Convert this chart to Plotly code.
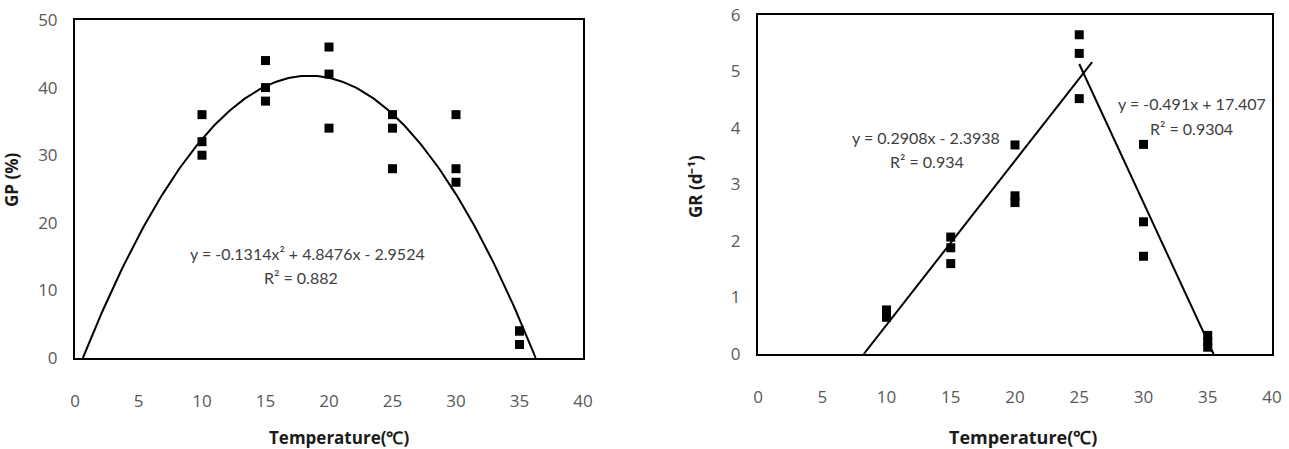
import numpy as np
import plotly.graph_objects as go

# ---------------- data ----------------
temp_gp = [10, 10, 10, 15, 15, 15, 20, 20, 20, 25, 25, 25, 30, 30, 30, 35, 35, 35]
gp_values = [36, 32, 30, 44, 40, 38, 46, 42, 34, 36, 34, 28, 36, 28, 26, 4, 4, 2]

temp_gr = [10, 10, 10, 15, 15, 15, 20, 20, 20, 25, 25, 25, 30, 30, 30, 35, 35, 35]
gr_values = [0.78, 0.72, 0.65, 2.07, 1.88, 1.60, 3.70, 2.80, 2.68,
             5.65, 5.32, 4.52, 3.71, 2.34, 1.73, 0.33, 0.22, 0.12]

# trendline coefficients (as printed on the chart)
gp_fit = [-0.1314, 4.8476, -2.9524]
gr_rise_fit = [0.2908, -2.3938]
gr_fall_fit = [-0.491, 17.407]
gr_rise_end = 26
gr_fall_start = 25

x_ticks = [0, 5, 10, 15, 20, 25, 30, 35, 40]

# ---------------- trendlines ----------------
r = np.sort(np.roots(gp_fit).real)
x_curve = np.linspace(r[0], r[1], 200)
y_curve = np.polyval(gp_fit, x_curve)

x_rise = np.array([-gr_rise_fit[1] / gr_rise_fit[0], gr_rise_end])
y_rise = np.polyval(gr_rise_fit, x_rise)
x_fall = np.array([gr_fall_start, -gr_fall_fit[1] / gr_fall_fit[0]])
y_fall = np.polyval(gr_fall_fit, x_fall)

W, H = 1289, 449
marker = dict(symbol="square", size=9, color="black")
line = dict(color="black", width=2)

fig = go.Figure()
fig.add_trace(go.Scatter(x=temp_gp, y=gp_values, mode="markers", marker=marker,
                         xaxis="x", yaxis="y", cliponaxis=False))
fig.add_trace(go.Scatter(x=x_curve, y=y_curve, mode="lines", line=line,
                         xaxis="x", yaxis="y"))
fig.add_trace(go.Scatter(x=temp_gr, y=gr_values, mode="markers", marker=marker,
                         xaxis="x2", yaxis="y2", cliponaxis=False))
fig.add_trace(go.Scatter(x=x_rise, y=y_rise, mode="lines", line=line,
                         xaxis="x2", yaxis="y2"))
fig.add_trace(go.Scatter(x=x_fall, y=y_fall, mode="lines", line=line,
                         xaxis="x2", yaxis="y2"))

tickfont = dict(family="Open Sans", size=17, color="#595959")
ax_common = dict(showline=True, mirror=True, linecolor="black", linewidth=2,
                 showgrid=False, zeroline=False, ticks="", tickfont=tickfont,
                 automargin=False)

def px_x(p):
    return p / W

def px_y(p):
    return 1 - p / H

fig.update_layout(
    width=W, height=H, margin=dict(l=0, r=0, t=0, b=0, autoexpand=False),
    paper_bgcolor="white", plot_bgcolor="white", showlegend=False,
    xaxis=dict(domain=[px_x(75), px_x(583)], range=[0, 40], tickvals=x_ticks,
               anchor="y", ticklabelstandoff=27, **ax_common),
    yaxis=dict(domain=[px_y(358), px_y(20)], range=[0, 50], dtick=10,
               anchor="x", ticklabelstandoff=12, **ax_common),
    xaxis2=dict(domain=[px_x(758), px_x(1272)], range=[0, 40], tickvals=x_ticks,
                anchor="y2", ticklabelstandoff=27, **ax_common),
    yaxis2=dict(domain=[px_y(354), px_y(15)], range=[0, 6], dtick=1,
                anchor="x2", ticklabelstandoff=12, **ax_common),
)

ann_font = dict(family="Lato", size=16, color="#404040")
title_font_l = dict(family="Open Sans", size=17, color="#1a1a1a")
title_font_r = dict(family="Open Sans", size=18, color="#1a1a1a")

def ann(text, x, y, font, angle=0):
    fig.add_annotation(text=text, x=px_x(x), y=px_y(y), xref="paper", yref="paper",
                       showarrow=False, font=font, textangle=angle,
                       xanchor="center", yanchor="middle")

ann("y = -0.1314x² + 4.8476x - 2.9524", 307, 253, ann_font)
ann("R² = 0.882", 301, 277, ann_font)
ann("y = 0.2908x - 2.3938", 926, 137, ann_font)
ann("R² = 0.934", 927, 161, ann_font)
ann("y = -0.491x + 17.407", 1192, 103, ann_font)
ann("R² = 0.9304", 1191, 128, ann_font)

ann("<b>Temperature(℃)</b>", 339, 437, title_font_l)
ann("<b>Temperature(℃)</b>", 1023, 437, title_font_r)
ann("<b>GP (%)</b>", 11, 180, title_font_l, angle=-90)
ann("<b>GR (d⁻¹)</b>", 696, 187, title_font_l, angle=-90)

fig.write_html("out.html")
